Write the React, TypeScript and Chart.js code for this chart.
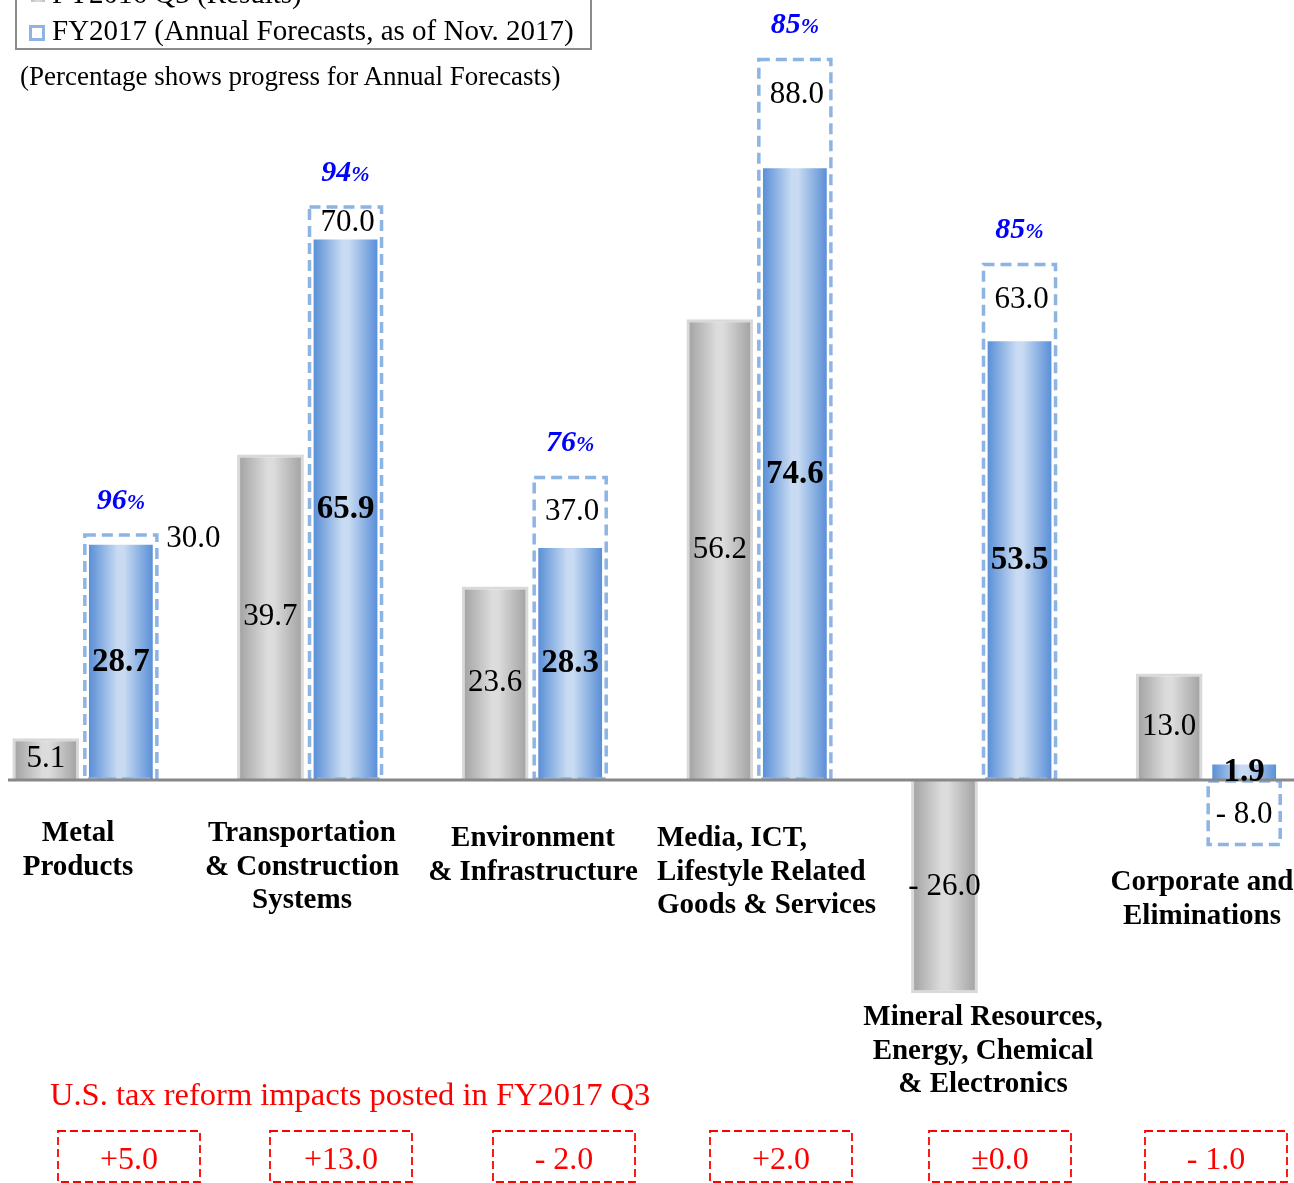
import React, { useEffect, useRef } from "react";
import { Chart, registerables } from "chart.js";

Chart.register(...registerables);

// ---------- data ----------
const categories = [
  "Metal Products",
  "Transportation & Construction Systems",
  "Environment & Infrastructure",
  "Media, ICT, Lifestyle Related Goods & Services",
  "Mineral Resources, Energy, Chemical & Electronics",
  "Corporate and Eliminations",
];
const categoryLines = [
  ["Metal", "Products"],
  ["Transportation", "& Construction", "Systems"],
  ["Environment", "& Infrastructure"],
  ["Media, ICT,", "Lifestyle Related", "Goods & Services"],
  ["Mineral Resources,", "Energy, Chemical", "& Electronics"],
  ["Corporate and", "Eliminations"],
];
const fy2016Q3 = [5.1, 39.7, 23.6, 56.2, -26.0, 13.0];
const fy2017Q3 = [28.7, 65.9, 28.3, 74.6, 53.5, 1.9];
const fy2017Forecast = [30.0, 70.0, 37.0, 88.0, 63.0, -8.0];
const progressPct: (number | null)[] = [96, 94, 76, 85, 85, null];
const taxImpacts = ["+5.0", "+13.0", "- 2.0", "+2.0", "±0.0", "- 1.0"];

// ---------- layout / style ----------
const FONT = '"Liberation Serif", "Times New Roman", serif';
const CAT_PCT = 0.668;
const GRAY_STOPS = ["#a4a4a4", "#dcdcdc"];
const BLUE_STOPS = ["#5a8fd7", "#c8dbf2"];
const DASH_COLOR = "#8db4e2";

// label placement (page coordinates for free text)
const catLabelLayout = [
  { x: 78, y: 815, align: "center" },
  { x: 302, y: 815, align: "center" },
  { x: 533, y: 820, align: "center" },
  { x: 657, y: 820, align: "left" },
  { x: 983, y: 999, align: "center" },
  { x: 1202, y: 864, align: "center" },
];
const taxBoxLeft = [57, 269, 492, 709, 928, 1144];

const fmt = (v: number) => (v < 0 ? "- " + Math.abs(v).toFixed(1) : v.toFixed(1));

function gradientFor(ctx: any, slotSide: number, stops: string[], pct: number) {
  const chart = ctx.chart;
  const xs = chart.scales && chart.scales.x;
  if (ctx.type !== "data" || !xs || !chart.chartArea) return stops[1];
  const catW = xs.width / categories.length;
  const slot = (catW * CAT_PCT) / 2;
  const cx = xs.getPixelForValue(ctx.dataIndex) + (slotSide * slot) / 2;
  const half = (slot * pct) / 2;
  const g = chart.ctx.createLinearGradient(cx - half, 0, cx + half, 0);
  g.addColorStop(0, stops[0]);
  g.addColorStop(0.45, stops[1]);
  g.addColorStop(0.55, stops[1]);
  g.addColorStop(1, stops[0]);
  return g;
}

const overlayPlugin = {
  id: "overlay",
  afterDatasetsDraw(chart: any) {
    const c = chart.ctx;
    const ys = chart.scales.y;
    const grayMeta = chart.getDatasetMeta(0);
    const blueMeta = chart.getDatasetMeta(1);
    const fcMeta = chart.getDatasetMeta(2);
    c.save();

    // dashed forecast boxes
    c.strokeStyle = DASH_COLOR;
    c.lineWidth = 3.5;
    c.setLineDash([11, 6]);
    fcMeta.data.forEach((el: any) => {
      const top = Math.min(el.y, el.base);
      const bot = Math.max(el.y, el.base);
      const l = el.x - el.width / 2;
      c.strokeRect(l + 1.5, top + 1, el.width - 3, bot - top - 2);
    });
    c.setLineDash([]);

    // zero line
    const y0 = ys.getPixelForValue(0);
    const canvasLeftOnPage = -29;
    c.strokeStyle = "#888888";
    c.lineWidth = 3;
    c.beginPath();
    c.moveTo(8 - canvasLeftOnPage, y0);
    c.lineTo(chart.width, y0);
    c.stroke();

    c.textBaseline = "middle";
    c.fillStyle = "#000";

    // gray labels
    c.font = `31px ${FONT}`;
    c.textAlign = "center";
    grayMeta.data.forEach((el: any, i: number) => {
      c.fillText(fmt(fy2016Q3[i]), el.x, (el.y + el.base) / 2);
    });

    // blue labels
    c.font = `bold 33px ${FONT}`;
    blueMeta.data.forEach((el: any, i: number) => {
      c.fillText(fmt(fy2017Q3[i]), el.x, (el.y + el.base) / 2);
    });

    // forecast labels
    c.font = `31px ${FONT}`;
    fcMeta.data.forEach((el: any, i: number) => {
      const v = fy2017Forecast[i];
      const b = blueMeta.data[i];
      if (v >= 0) {
        const gap = b.y - el.y;
        if (gap < 20) {
          c.textAlign = "left";
          c.fillText(fmt(v), el.x + el.width / 2 + 8, (el.y + b.y) / 2);
        } else {
          c.textAlign = "center";
          c.fillText(fmt(v), el.x + 2, Math.min(el.y + 36, (el.y + b.y) / 2));
        }
      } else {
        c.textAlign = "center";
        c.fillText(fmt(v), el.x, (el.y + el.base) / 2 + 2);
      }
    });

    // progress percentages
    c.fillStyle = "#0000ff";
    fcMeta.data.forEach((el: any, i: number) => {
      const p = progressPct[i];
      if (p == null) return;
      const num = String(p);
      c.font = `italic bold 30px ${FONT}`;
      const w1 = c.measureText(num).width;
      c.font = `italic bold 22px ${FONT}`;
      const w2 = c.measureText("%").width;
      const left = el.x - (w1 + w2) / 2;
      const yy = Math.min(el.y, el.base) - 33;
      c.textAlign = "left";
      c.font = `italic bold 30px ${FONT}`;
      c.fillText(num, left, yy);
      c.font = `italic bold 22px ${FONT}`;
      c.fillText("%", left + w1, yy + 2);
    });

    c.restore();
  },
};

export default function App() {
  const ref = useRef<HTMLCanvasElement | null>(null);

  useEffect(() => {
    if (!ref.current) return;
    const chart = new Chart(ref.current, {
      type: "bar",
      data: {
        labels: categories,
        datasets: [
          {
            label: "FY2016 Q3 (Results)",
            data: fy2016Q3,
            stack: "g",
            categoryPercentage: CAT_PCT,
            barPercentage: 0.89,
            borderWidth: 3,
            borderColor: "#d9d9d9",
            backgroundColor: (ctx: any) => gradientFor(ctx, -1, GRAY_STOPS, 0.82),
          },
          {
            label: "FY2017 Q3 (Results)",
            data: fy2017Q3,
            stack: "b",
            categoryPercentage: CAT_PCT,
            barPercentage: 0.85,
            borderWidth: 0,
            backgroundColor: (ctx: any) => gradientFor(ctx, 1, BLUE_STOPS, 0.85),
          },
          {
            label: "FY2017 (Annual Forecasts, as of Nov. 2017)",
            data: fy2017Forecast,
            stack: "b",
            categoryPercentage: CAT_PCT,
            barPercentage: 1.0,
            borderWidth: 0,
            backgroundColor: "rgba(0,0,0,0)",
          },
        ],
      },
      options: {
        animation: false,
        responsive: false,
        events: [],
        layout: { padding: 0 },
        plugins: {
          legend: { display: false },
          title: { display: false },
          tooltip: { enabled: false },
        },
        scales: {
          x: { display: false, grid: { display: false } },
          y: {
            display: false,
            stacked: false,
            min: -49.15,
            max: 95.12,
            grid: { display: false },
          },
        },
      },
      plugins: [overlayPlugin],
    } as any);
    return () => chart.destroy();
  }, []);

  const txt: React.CSSProperties = { position: "absolute", whiteSpace: "nowrap", fontFamily: FONT };

  return (
    <div
      style={{
        position: "fixed",
        left: 0,
        top: 0,
        width: 1294,
        height: 1183,
        overflow: "hidden",
        background: "#fff",
        fontFamily: FONT,
        color: "#000",
      }}
    >
      <canvas
        ref={ref}
        width={1348}
        height={1183}
        style={{ position: "absolute", left: -29, top: 0, width: 1348, height: 1183 }}
      />

      {/* legend */}
      <div
        style={{
          position: "absolute",
          left: 15,
          top: -40,
          width: 573,
          height: 86,
          border: "2px solid #8c8c8c",
          background: "#fff",
        }}
      >
        <div style={{ ...txt, left: 14, top: 26, width: 14, height: 14, background: "linear-gradient(90deg,#bdbdbd,#e0e0e0,#bdbdbd)" }} />
        <div style={{ ...txt, left: 35, top: 13, fontSize: 29, lineHeight: "36px" }}>FY2016 Q3 (Results)</div>
        <div style={{ ...txt, left: 12, top: 63, width: 10, height: 10, border: `3px solid ${DASH_COLOR}` }} />
        <div style={{ ...txt, left: 35, top: 50, fontSize: 29, lineHeight: "36px" }}>
          FY2017 (Annual Forecasts, as of Nov. 2017)
        </div>
      </div>
      <div style={{ ...txt, left: 20, top: 60, fontSize: 27, lineHeight: "32px" }}>
        (Percentage shows progress for Annual Forecasts)
      </div>

      {/* category labels */}
      {categoryLines.map((lines, i) => {
        const lay = catLabelLayout[i];
        const centered = lay.align === "center";
        return (
          <div
            key={i}
            style={{
              ...txt,
              left: centered ? lay.x - 200 : lay.x,
              top: lay.y,
              width: centered ? 400 : undefined,
              textAlign: centered ? "center" : "left",
              fontWeight: "bold",
              fontSize: 29,
              lineHeight: "33.5px",
            }}
          >
            {lines.map((l, j) => (
              <div key={j}>{l}</div>
            ))}
          </div>
        );
      })}

      {/* tax reform impacts */}
      <div style={{ ...txt, left: 50, top: 1075, fontSize: 32.5, lineHeight: "38px", color: "#ff0000" }}>
        U.S. tax reform impacts posted in FY2017 Q3
      </div>
      {taxImpacts.map((t, i) => (
        <div key={i} style={{ ...txt, left: taxBoxLeft[i], top: 1130, width: 144, height: 53 }}>
          <svg width={144} height={53} style={{ position: "absolute", left: 0, top: 0 }}>
            <rect
              x={1}
              y={1}
              width={142}
              height={51}
              fill="none"
              stroke="#ff0000"
              strokeWidth={1.8}
              strokeDasharray="8 4"
            />
          </svg>
          <div
            style={{
              position: "absolute",
              left: 0,
              top: 0,
              width: 144,
              height: 53,
              lineHeight: "56px",
              textAlign: "center",
              color: "#ff0000",
              fontSize: 32,
            }}
          >
            {t}
          </div>
        </div>
      ))}
    </div>
  );
}
